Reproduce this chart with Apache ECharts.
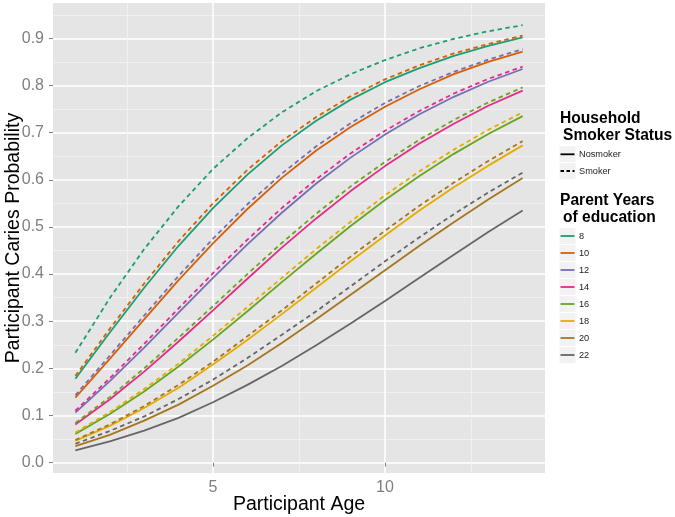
<!DOCTYPE html>
<html>
<head>
<meta charset="utf-8">
<script src="https://cdn.jsdelivr.net/npm/echarts@6/dist/echarts.min.js"></script>
<style>html,body{margin:0;padding:0;background:#fff;}#chart{width:675px;height:517px;}</style>
</head>
<body>
<div id="chart"></div>
<script>
// ---- data ----
const ages = [1,2,3,4,5,6,7,8,9,10,11,12,13,14];
const eduLevels = ['8','10','12','14','16','18','20','22'];
const smokerLabels = ['Nosmoker','Smoker'];
const xTicks = [5, 10];
const xMinorTicks = [2.5, 7.5, 12.5];
const yTicks = [0, 0.1, 0.2, 0.3, 0.4, 0.5, 0.6, 0.7, 0.8, 0.9];
const yMinorTicks = [0.05, 0.15, 0.25, 0.35, 0.45, 0.55, 0.65, 0.75, 0.85, 0.95];

// Nosmoker (solid)
const non8  = [0.178,0.276,0.371,0.460,0.540,0.611,0.673,0.725,0.770,0.807,0.837,0.863,0.884,0.902];
const non10 = [0.138,0.220,0.304,0.387,0.465,0.538,0.604,0.662,0.712,0.755,0.792,0.824,0.850,0.872];
const non12 = [0.106,0.173,0.244,0.318,0.392,0.463,0.530,0.592,0.647,0.696,0.739,0.776,0.808,0.835];
const non14 = [0.081,0.134,0.193,0.257,0.323,0.390,0.456,0.518,0.576,0.629,0.677,0.719,0.757,0.789];
const non16 = [0.061,0.103,0.151,0.204,0.261,0.321,0.383,0.443,0.502,0.557,0.608,0.655,0.697,0.735];
const non18 = [0.046,0.078,0.116,0.159,0.208,0.260,0.315,0.371,0.427,0.482,0.535,0.584,0.630,0.673];
const non20 = [0.035,0.059,0.089,0.123,0.163,0.206,0.254,0.304,0.356,0.408,0.460,0.510,0.558,0.604];
const non22 = [0.026,0.045,0.068,0.095,0.128,0.165,0.205,0.249,0.295,0.343,0.392,0.441,0.489,0.535];
// Smoker (dashed)
const smk8  = [0.233,0.349,0.453,0.544,0.623,0.688,0.743,0.788,0.824,0.854,0.879,0.899,0.915,0.928];
const smk10 = [0.184,0.284,0.380,0.470,0.550,0.621,0.682,0.733,0.777,0.813,0.843,0.868,0.888,0.906];
const smk12 = [0.143,0.227,0.312,0.396,0.475,0.548,0.613,0.671,0.720,0.763,0.799,0.829,0.855,0.877];
const smk14 = [0.110,0.179,0.252,0.327,0.402,0.473,0.540,0.601,0.656,0.704,0.746,0.783,0.814,0.840];
const smk16 = [0.084,0.139,0.200,0.265,0.332,0.400,0.466,0.528,0.586,0.638,0.685,0.727,0.764,0.796];
const smk18 = [0.064,0.107,0.156,0.210,0.269,0.330,0.392,0.453,0.511,0.567,0.618,0.664,0.706,0.743];
const smk20 = [0.048,0.081,0.120,0.165,0.214,0.268,0.323,0.380,0.437,0.492,0.545,0.594,0.640,0.682];
const smk22 = [0.040,0.067,0.098,0.135,0.176,0.222,0.271,0.321,0.374,0.427,0.478,0.527,0.573,0.615];

const nonSeries = [non8, non10, non12, non14, non16, non18, non20, non22];
const smkSeries = [smk8, smk10, smk12, smk14, smk16, smk18, smk20, smk22];

// ---- style ----
const eduColors = ['#1B9E77','#D95F02','#7570B3','#E7298A','#66A61E','#E6AB02','#A6761D','#666666'];
const FONT = 'Liberation Sans, Arial, Helvetica, sans-serif';
const LW = 1.8;
const DASH = [4.5, 3.5];

const series = [];
eduLevels.forEach((e, i) => {
  series.push({
    name: e + ' Nosmoker', type: 'line', xAxisIndex: 0, yAxisIndex: 0,
    data: ages.map((a, k) => [a, nonSeries[i][k]]),
    showSymbol: false, silent: true, animation: false,
    lineStyle: { color: eduColors[i], width: LW, type: 'solid' }
  });
  series.push({
    name: e + ' Smoker', type: 'line', xAxisIndex: 0, yAxisIndex: 0,
    data: ages.map((a, k) => [a, smkSeries[i][k]]),
    showSymbol: false, silent: true, animation: false,
    lineStyle: { color: eduColors[i], width: LW, type: DASH }
  });
});

// ---- legend (drawn as graphics) ----
const graphics = [];
const keyX = 559, keyW = 17, textX = 579;
function title(text, x, y) {
  graphics.push({ type: 'text', x: x, y: y, style: { text: text, font: 'bold 15.6px ' + FONT, fill: '#000', verticalAlign: 'middle', align: 'left' } });
}
function keyBox(y) {
  graphics.push({ type: 'rect', shape: { x: keyX, y: y - 8.5, width: keyW, height: 17 }, style: { fill: '#F2F2F2', stroke: '#fff', lineWidth: 1 } });
}
title('Household', 560, 118.7);
title('Smoker Status', 563, 135.4);
smokerLabels.forEach((lab, i) => {
  const y = 154.3 + i * 16.7;
  keyBox(y);
  graphics.push({ type: 'line', shape: { x1: 560.5, y1: y, x2: 574.5, y2: y }, style: { stroke: '#000', lineWidth: LW, lineDash: i === 1 ? [3.5, 2.5] : null } });
  graphics.push({ type: 'text', x: textX, y: y, style: { text: lab, font: '9.2px ' + FONT, fill: '#222', verticalAlign: 'middle', align: 'left' } });
});
title('Parent Years', 560, 201);
title('of education', 563, 217.5);
eduLevels.forEach((e, i) => {
  const y = 236 + i * 17.0;
  keyBox(y);
  graphics.push({ type: 'line', shape: { x1: 560.5, y1: y, x2: 574.5, y2: y }, style: { stroke: eduColors[i], lineWidth: LW } });
  graphics.push({ type: 'text', x: textX, y: y, style: { text: e, font: '9.2px ' + FONT, fill: '#222', verticalAlign: 'middle', align: 'left' } });
});

const XMIN = 0.35, XMAX = 14.65, YMIN = -0.022, YMAX = 0.975;

const option = {
  backgroundColor: '#fff',
  animation: false,
  textStyle: { fontFamily: FONT },
  grid: { left: 53, right: 130, top: 3, bottom: 44, show: true, backgroundColor: '#E5E5E5', borderWidth: 0, containLabel: false, outerBoundsMode: 'none' },
  xAxis: [
    {
      type: 'value', min: XMIN, max: XMAX,
      name: 'Participant Age', nameLocation: 'middle', nameGap: 22, nameMoveOverlap: false,
      nameTextStyle: { fontSize: 19.5, color: '#000', fontFamily: FONT },
      axisLine: { show: false },
      axisTick: { show: true, customValues: xTicks, length: 4, lineStyle: { color: '#7F7F7F', width: 1 } },
      axisLabel: { show: true, customValues: xTicks, color: '#7F7F7F', fontSize: 16, margin: 7, fontFamily: FONT },
      splitLine: { show: true, lineStyle: { color: '#FFFFFF', width: 1.5 } }
    },
    {
      type: 'value', min: XMIN, max: XMAX, position: 'bottom',
      axisLine: { show: false },
      axisTick: { show: false, customValues: xMinorTicks },
      axisLabel: { show: false, customValues: xMinorTicks },
      splitLine: { show: true, lineStyle: { color: '#F2F2F2', width: 0.8 } }
    }
  ],
  yAxis: [
    {
      type: 'value', min: YMIN, max: YMAX,
      name: 'Participant Caries Probability', nameLocation: 'middle', nameGap: 29, nameMoveOverlap: false,
      nameTextStyle: { fontSize: 19.5, color: '#000', fontFamily: FONT },
      axisLine: { show: false },
      axisTick: { show: true, customValues: yTicks, length: 4, lineStyle: { color: '#7F7F7F', width: 1 } },
      axisLabel: { show: true, customValues: yTicks, color: '#7F7F7F', fontSize: 16, margin: 9, fontFamily: FONT, formatter: v => Number(v).toFixed(1) },
      splitLine: { show: true, lineStyle: { color: '#FFFFFF', width: 1.5 } }
    },
    {
      type: 'value', min: YMIN, max: YMAX, position: 'left',
      axisLine: { show: false },
      axisTick: { show: false, customValues: yMinorTicks },
      axisLabel: { show: false, customValues: yMinorTicks },
      splitLine: { show: true, lineStyle: { color: '#F2F2F2', width: 0.8 } }
    }
  ],
  series: series,
  graphic: graphics
};

const chart = echarts.init(document.getElementById('chart'), null, { renderer: 'canvas' });
chart.setOption(option);
</script>
</body>
</html>
